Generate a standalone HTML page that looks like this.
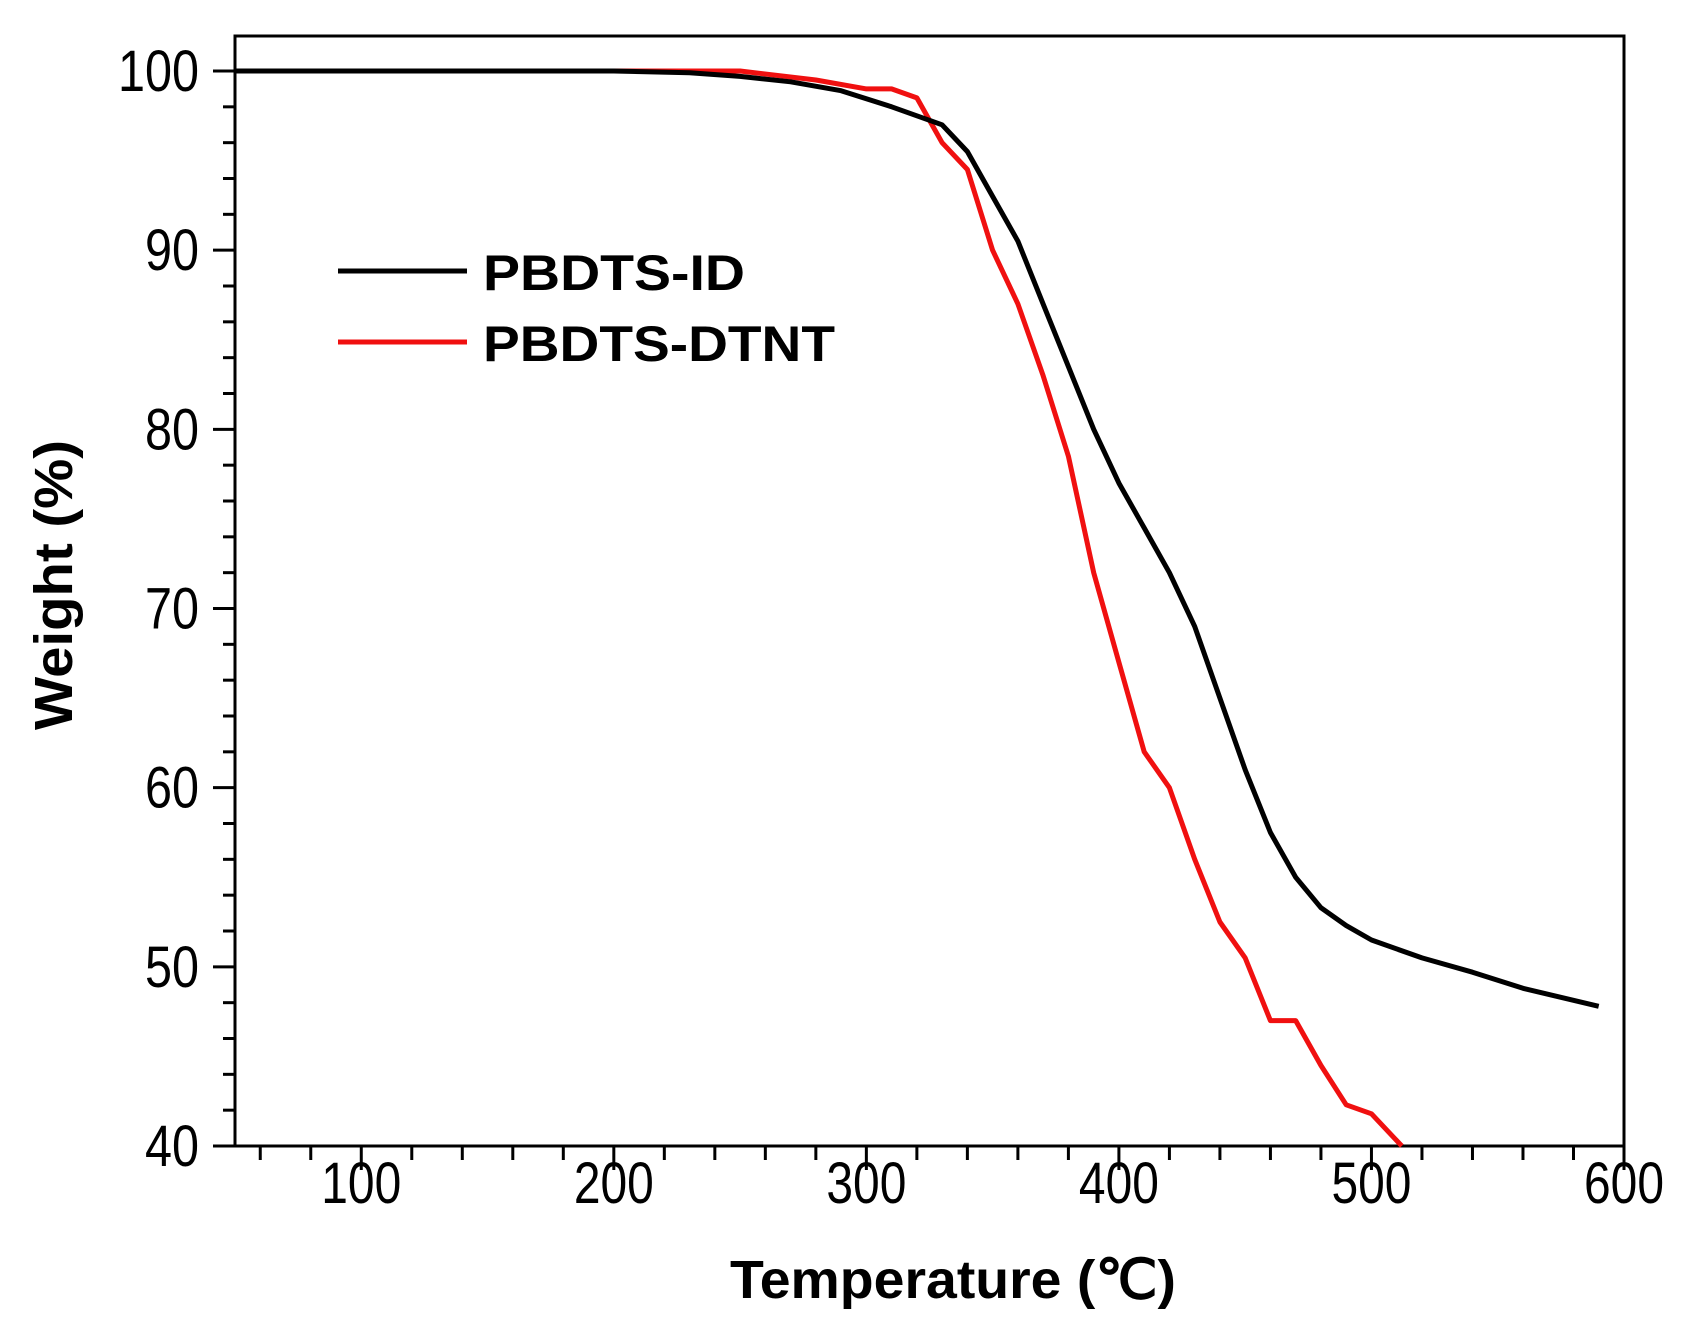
<!DOCTYPE html>
<html><head><meta charset="utf-8"><style>body{margin:0;background:#fff}svg{display:block}text{font-family:"Liberation Sans",Arial,sans-serif}</style></head>
<body>
<svg id="c" width="1684" height="1331" xmlns="http://www.w3.org/2000/svg"></svg>
<script>
const xTicks=[100,200,300,400,500,600];
const yTicks=[40,50,60,70,80,90,100];
const tempBlack=[50,200,230,250,270,290,310,330,340,350,360,370,380,390,400,410,420,430,440,450,460,470,480,490,500,520,540,560,590];
const wBlack=[100,100,99.9,99.7,99.4,98.9,98,97,95.5,93,90.5,87,83.5,80,77,74.5,72,69,65,61,57.5,55,53.3,52.3,51.5,50.5,49.7,48.8,47.8];
const tempRed=[50,250,280,300,310,320,330,340,350,360,370,380,390,400,410,420,430,440,450,460,470,480,490,500,512];
const wRed=[100,100,99.5,99,99,98.5,96,94.5,90,87,83,78.5,72,67,62,60,56,52.5,50.5,47,47,44.5,42.3,41.8,40];
const L=235,R=1624,T=36,B=1146;
const X=v=>L+(v-50)/550*(R-L);
const Y=v=>B-(v-40)/60*(B-71);
const svg=document.getElementById('c');
const NS='http://www.w3.org/2000/svg';
function mk(tag,attrs,txt){const e=document.createElementNS(NS,tag);for(const k in attrs)e.setAttribute(k,attrs[k]);if(txt!==undefined)e.textContent=txt;svg.appendChild(e);return e;}
let f=mk('rect',{x:L,y:T,width:R-L,height:B-T,fill:'none',stroke:'#000','stroke-width':3});


for(let v=60;v<=600;v+=20){const major=v%100===0;let t=mk('line',{x1:X(v),x2:X(v),y1:B,y2:B+(major?24:14),stroke:'#000','stroke-width':3});

}
xTicks.forEach(v=>{let t=mk('text',{x:X(v),y:1203,'font-size':58,'text-anchor':'middle',textLength:80,lengthAdjust:'spacingAndGlyphs'},String(v));

});
for(let v=40;v<=100;v+=2){const major=v%10===0;let t=mk('line',{x1:L,x2:L-(major?22:12),y1:Y(v),y2:Y(v),stroke:'#000','stroke-width':3});

}
yTicks.forEach(v=>{let s=String(v);let t=mk('text',{x:199,y:Y(v)+20,'font-size':58,'text-anchor':'end',textLength:s.length*27,lengthAdjust:'spacingAndGlyphs'},s);

});
let xt=mk('text',{x:953,y:1298,'font-size':54,'font-weight':'bold','text-anchor':'middle',textLength:446,lengthAdjust:'spacingAndGlyphs'},'Temperature (℃)');


let yt=mk('text',{x:0,y:0,'font-size':54,'font-weight':'bold','text-anchor':'middle',textLength:290,lengthAdjust:'spacingAndGlyphs',transform:'translate(72,585) rotate(-90)'},'Weight (%)');


function series(xs,ys,color,name){const d=xs.map((x,i)=>(i?'L':'M')+X(x).toFixed(1)+','+Y(ys[i]).toFixed(1)).join(' ');
let p=mk('path',{d:d,fill:'none',stroke:color,'stroke-width':5,'stroke-linejoin':'round'});

}
series(tempRed,wRed,'#f01010','series-pbdts-dtnt');
series(tempBlack,wBlack,'#000','series-pbdts-id');
[['PBDTS-ID','#000',271],['PBDTS-DTNT','#f01010',342]].forEach(([n,c,y],i)=>{
let l=mk('line',{x1:338,x2:467,y1:y,y2:y,stroke:c,'stroke-width':5});


let t=mk('text',{x:483,y:y+19,'font-size':50,'font-weight':'bold',textLength:i?352:262,lengthAdjust:'spacingAndGlyphs'},n);

});
</script>
</body></html>
